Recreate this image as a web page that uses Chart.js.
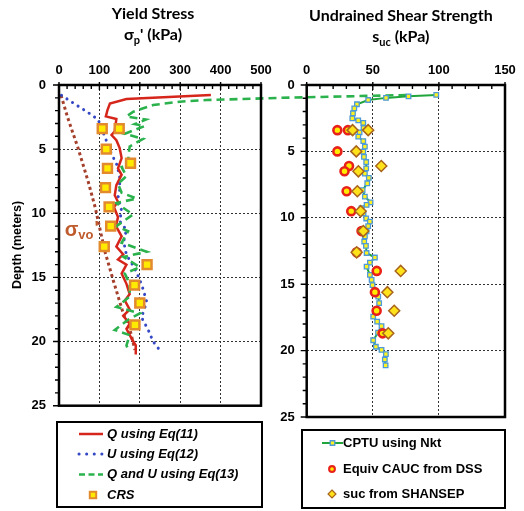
<!DOCTYPE html>
<html><head><meta charset="utf-8">
<script src="https://cdn.jsdelivr.net/npm/chart.js@4/dist/chart.umd.min.js"></script>
<style>
html,body{margin:0;padding:0;background:#fff;}
#wrap{position:relative;width:524px;height:511px;background:#fff;}
canvas{position:absolute;left:0;top:0;}
</style></head><body>
<div id="wrap"><canvas id="cl" width="524" height="511"></canvas><canvas id="cr" width="524" height="511"></canvas></div>
<script>
// ---------- tick labels ----------
const depthTicks = [0, 5, 10, 15, 20, 25];
const yieldTicks = [0, 100, 200, 300, 400, 500];
const suTicks = [0, 50, 100, 150];

// ---------- Yield stress panel (kPa vs depth m) ----------
const qDepth = [0.78, 1.1, 1.45, 1.95, 2.45, 2.65, 3.1, 3.6, 3.9, 4.3, 4.9, 5.7, 6.5, 7.0, 7.8, 8.6, 9.1, 9.5, 10.3, 11.0, 11.8, 12.6, 13.2, 13.6, 14.0, 14.7, 15.5, 16.3, 16.8, 17.5, 18.0, 18.6, 19.0, 19.9, 20.3, 21.0];
const qYield = [376, 167, 126, 120, 116, 142, 140, 138, 130, 142, 150, 155, 146, 155, 142, 138, 146, 136, 146, 141, 155, 142, 159, 146, 167, 155, 167, 175, 163, 175, 159, 175, 167, 182, 190, 190];

const uDepth = [0.8, 1.5, 2.1, 2.7, 3.6, 4.4, 5.4, 6.1, 7.1, 8.3, 8.8, 9.8, 10.6, 11.3, 12.2, 13.25, 13.9, 14.6, 15.2, 15.9, 16.9, 17.6, 18.1, 19.1, 20.0, 20.7];
const uYield = [6, 40, 70, 97, 108, 118, 130, 142, 150, 150, 146, 155, 150, 167, 160, 167, 180, 192, 200, 208, 217, 210, 204, 221, 233, 250];

const quDepth = [0.78, 1.0, 1.17, 1.3, 1.56, 2.08, 2.45, 2.7, 3.05, 3.2, 3.8, 4.2, 4.8, 5.5, 6.2, 6.4, 7.1, 7.7, 8.4, 8.85, 9.2, 10.1, 11.0, 11.4, 12.3, 13.0, 13.4, 14.2, 14.7, 15.5, 16.5, 17.3, 17.8, 18.3, 19.1, 19.5, 20.3, 20.8];
const quYield = [860, 550, 365, 299, 233, 184, 167, 215, 188, 212, 163, 208, 175, 172, 171, 155, 167, 146, 155, 192, 142, 183, 142, 171, 155, 217, 160, 200, 163, 175, 175, 142, 200, 171, 138, 175, 167, 174];

const svoDepth = [0.8, 2.6, 4.9, 7.5, 9.6, 12.9, 15.2, 17.8, 19.0, 20.65];
const svoStress = [5, 22, 47, 72, 90, 113, 134, 159, 175, 188];

const sampleDepth = [3.4, 3.4, 5.0, 6.1, 6.5, 8.0, 9.5, 11.0, 12.6, 14.0, 15.6, 17.0, 18.7];
const crsYield = [107, 149, 117, 177, 120, 115, 124, 128, 112, 218, 187, 200, 188];

// ---------- Undrained shear strength panel ----------
const cptuDepth = [0.75, 0.85, 0.97, 1.13, 1.45, 1.76, 2.13, 2.51, 2.66, 2.85, 3.24, 3.57, 3.89, 4.22, 4.64, 5.02, 5.41, 5.8, 6.28, 6.67, 7.0, 7.4, 7.92, 8.4, 8.84, 9.03, 9.27, 9.66, 10.05, 10.29, 10.63, 11.01, 11.4, 11.79, 12.12, 12.65, 12.99, 13.38, 13.68, 14.3, 14.68, 15.07, 15.55, 15.94, 16.42, 16.9, 17.44, 17.82, 18.16, 18.64, 19.22, 19.71, 19.95, 20.26, 20.67, 21.11];
const cptuSu = [98, 77, 60, 46.5, 38, 36, 35, 34.5, 39, 42.8, 43, 40, 39, 42.8, 44, 42.8, 43.3, 45, 45, 44, 47, 45.8, 42.3, 44, 48.3, 45.3, 41.5, 43, 45, 47.8, 46.5, 45.3, 44, 43.5, 44.8, 45.3, 51.6, 47.8, 45.3, 47.8, 49.1, 49.8, 52.1, 54.1, 54.8, 53, 50.3, 53.3, 56.6, 54, 50.3, 52.3, 56.6, 59.9, 59.1, 59.7];
const dssSu = [23.2, 31.2, 23.2, 32, 28.6, 30.2, 33.7, 41.5, 37.8, 53, 51.6, 52.9, 57.4];
const shansepSu = [34.7, 46.5, 37.5, 56.4, 39.1, 38.3, 40.8, 42.8, 37.8, 71.1, 61, 66.2, 61.7];

const pts = (xs, ys) => xs.map((v, i) => ({x: v, y: ys[i]}));

const FONT = "'Liberation Sans', Arial, sans-serif";
const TFONT = "Lato, 'Liberation Sans', 'DejaVu Sans', sans-serif";

function richText(ctx, parts, cx, baseY, family, color) {
  let total = 0;
  parts.forEach(p => { ctx.font = `${p.italic ? 'italic ' : ''}bold ${p.size}px ${family}`; p.w = ctx.measureText(p.t).width; total += p.w; });
  let x = cx - total / 2;
  ctx.fillStyle = color || '#000';
  ctx.textAlign = 'left';
  ctx.textBaseline = 'alphabetic';
  parts.forEach(p => { ctx.font = `${p.italic ? 'italic ' : ''}bold ${p.size}px ${family}`; ctx.fillText(p.t, x, baseY + (p.dy || 0)); x += p.w; });
}

function marker(ctx, style, r, x, y) {
  ctx.beginPath();
  if (style === 'rect') { const s = r * Math.SQRT1_2; ctx.rect(x - s, y - s, 2 * s, 2 * s); }
  else if (style === 'rectRot') { ctx.moveTo(x, y - r); ctx.lineTo(x + r, y); ctx.lineTo(x, y + r); ctx.lineTo(x - r, y); ctx.closePath(); }
  else { ctx.arc(x, y, r, 0, Math.PI * 2); }
  ctx.fill(); ctx.stroke();
}

const decor = {
  id: 'decor',
  afterDraw(chart, args, o) {
    const {ctx, chartArea: a} = chart;
    const xs = chart.scales.x, ys = chart.scales.y;
    ctx.save();
    ctx.setLineDash([]);
    ctx.strokeStyle = '#000';
    ctx.lineWidth = 1.4;
    ctx.beginPath();
    for (let v = xs.min; v <= xs.max + 1e-6; v += o.minorX) {
      const p = xs.getPixelForValue(v);
      const major = Math.abs(v / o.majorX - Math.round(v / o.majorX)) < 1e-6;
      ctx.moveTo(p, a.top - (major ? 3 : 0)); ctx.lineTo(p, a.top + (major ? 5 : 4));
    }
    for (let v = ys.min; v <= ys.max + 1e-6; v += 1) {
      const p = ys.getPixelForValue(v);
      const major = v % 5 === 0;
      ctx.moveTo(a.left - (major ? 6 : 4), p); ctx.lineTo(a.left, p);
    }
    ctx.stroke();
    ctx.lineWidth = 2.5;
    ctx.strokeRect(a.left, a.top, a.right - a.left, a.bottom - a.top);

    // titles
    o.titles.forEach(t => richText(ctx, t.parts, (a.left + a.right) / 2 + t.dx, t.y, TFONT));

    // y-axis title
    if (o.yTitle) {
      ctx.save();
      ctx.translate(o.yTitle.x, o.yTitle.y);
      ctx.rotate(-Math.PI / 2);
      ctx.font = `bold 12.5px ${FONT}`;
      ctx.fillStyle = '#000';
      ctx.textAlign = 'center'; ctx.textBaseline = 'middle';
      ctx.fillText(o.yTitle.text, 0, 0);
      ctx.restore();
    }

    // in-plot label
    if (o.label) {
      const lx = xs.getPixelForValue(o.label.x), ly = ys.getPixelForValue(o.label.y);
      let x = lx;
      ctx.fillStyle = o.label.color; ctx.textAlign = 'left'; ctx.textBaseline = 'alphabetic';
      o.label.parts.forEach(p => { ctx.font = `bold ${p.size}px ${FONT}`; ctx.fillText(p.t, x, ly + (p.dy || 0)); x += ctx.measureText(p.t).width + (p.gap || 0); });
    }

    // legend box
    const L = o.legend;
    ctx.lineWidth = 2;
    ctx.strokeStyle = '#000';
    ctx.strokeRect(L.box[0], L.box[1], L.box[2] - L.box[0], L.box[3] - L.box[1]);
    const items = chart.data.datasets.filter(d => d.legend !== false);
    items.forEach((d, i) => {
      const y = L.rows[i];
      const [x1, x2] = L.sample; const cx = (x1 + x2) / 2;
      if (d.showLine) {
        ctx.save();
        ctx.strokeStyle = d.borderColor; ctx.lineWidth = d.borderWidth;
        ctx.setLineDash(d.legendDash || d.borderDash || []); ctx.lineCap = d.borderCapStyle || 'butt';
        ctx.beginPath(); ctx.moveTo(x1, y); ctx.lineTo(x2, y); ctx.stroke();
        ctx.restore();
      }
      if (d.pointRadius > 0) {
        ctx.save();
        ctx.fillStyle = d.pointBackgroundColor; ctx.strokeStyle = d.pointBorderColor;
        ctx.lineWidth = d.showLine ? d.pointBorderWidth : d.pointBorderWidth * 0.8;
        marker(ctx, d.pointStyle, d.showLine ? d.pointRadius : d.pointRadius * 0.72, d.showLine ? cx : L.markX, y);
        ctx.restore();
      }
      ctx.fillStyle = '#000';
      ctx.font = `${L.italic ? 'italic ' : ''}bold 13px ${FONT}`;
      ctx.textAlign = 'left'; ctx.textBaseline = 'middle';
      ctx.fillText(d.label, L.text, y);
    });
    ctx.restore();
  }
};

function axes(xTicks, xmax, yW, depthLabelPad) {
  const tickFont = {family: FONT, weight: 'bold', size: 13};
  return {
    x: {
      type: 'linear', position: 'top', min: 0, max: xmax,
      afterBuildTicks: s => { s.ticks = xTicks.map(v => ({value: v})); },
      afterFit: s => { s.height = 85; },
      grid: {color: '#333', lineWidth: 1, drawTicks: false},
      border: {display: false, dash: [2, 2]},
      ticks: {padding: 7, color: '#000', font: tickFont, maxRotation: 0}
    },
    y: {
      type: 'linear', reverse: true, min: 0, max: 25,
      afterBuildTicks: s => { s.ticks = depthTicks.map(v => ({value: v})); },
      afterFit: s => { s.width = yW; },
      grid: {color: '#333', lineWidth: 1, drawTicks: false},
      border: {display: false, dash: [2, 2]},
      ticks: {padding: depthLabelPad, color: '#000', font: tickFont}
    }
  };
}

Chart.defaults.font.family = FONT;

// ---------- left chart ----------
new Chart(document.getElementById('cl'), {
  type: 'scatter',
  data: {
    datasets: [
      {label: 'Q using Eq(11)', data: pts(qYield, qDepth), showLine: true, borderColor: '#D6261C', borderWidth: 2.5, pointRadius: 0, order: 2},
      {label: 'U using Eq(12)', data: pts(uYield, uDepth), showLine: true, borderColor: '#3447C4', borderWidth: 3, borderDash: [0.1, 6.5], borderCapStyle: 'round', legendDash: [0.1, 7.5], pointRadius: 0, order: 3},
      {label: 'Q and U using Eq(13)', data: pts(quYield, quDepth), showLine: true, borderColor: '#2BB24C', borderWidth: 2.6, borderDash: [8, 5], legendDash: [6, 3.5], pointRadius: 0, clip: false, order: 1},
      {label: "σvo'", legend: false, data: pts(svoStress, svoDepth), showLine: true, borderColor: '#A5402C', borderWidth: 3, borderDash: [3, 3], pointRadius: 0, order: 4},
      {label: 'CRS', data: pts(crsYield, sampleDepth), showLine: false, pointStyle: 'rect', pointRadius: 6.3, pointBackgroundColor: '#FFEA00', pointBorderColor: '#E38A2E', pointBorderWidth: 2.5, order: 0}
    ]
  },
  options: {
    responsive: false, animation: false, events: [],
    layout: {padding: {left: 0, right: 263, top: 0, bottom: 105.3}},
    scales: axes(yieldTicks, 500, 59, 13),
    plugins: {
      legend: {display: false}, tooltip: {enabled: false},
      decor: {
        minorX: 20, majorX: 100,
        titles: [
          {dx: -7, y: 18.5, parts: [{t: 'Yield Stress', size: 16}]},
          {dx: -7, y: 39.5, parts: [{t: 'σ', size: 16}, {t: 'p', size: 11, dy: 4}, {t: "' (kPa)", size: 16}]}
        ],
        yTitle: {text: 'Depth (meters)', x: 17.5, y: 245},
        label: {x: 14, y: 11.8, color: '#BF5A2C', parts: [{t: 'σ', size: 20}, {t: 'vo', size: 13, dy: 3, gap: 1}, {t: "'", size: 18, dy: -2}]},
        legend: {box: [57, 422, 262, 507], rows: [434, 454, 474.5, 495], sample: [79, 103], markX: 93, text: 107, italic: true}
      }
    }
  },
  plugins: [decor]
});

// ---------- right chart ----------
new Chart(document.getElementById('cr'), {
  type: 'scatter',
  data: {
    datasets: [
      {label: 'CPTU using Nkt', data: pts(cptuSu, cptuDepth), showLine: true, borderColor: '#1FA53C', borderWidth: 2, pointStyle: 'rect', pointRadius: 3.2, pointBackgroundColor: '#FFF21E', pointBorderColor: '#4E9AD8', pointBorderWidth: 1.3, order: 2},
      {label: 'Equiv CAUC from DSS', data: pts(dssSu, sampleDepth), showLine: false, pointStyle: 'circle', pointRadius: 4, pointBackgroundColor: '#FFEC00', pointBorderColor: '#E8221A', pointBorderWidth: 2.6, order: 1},
      {label: 'suc from SHANSEP', data: pts(shansepSu, sampleDepth), showLine: false, pointStyle: 'rectRot', pointRadius: 5.5, pointBackgroundColor: '#FFE21A', pointBorderColor: '#A8641C', pointBorderWidth: 1.5, order: 0}
    ]
  },
  options: {
    responsive: false, animation: false, events: [],
    layout: {padding: {left: 276.7, right: 19, top: 0, bottom: 94}},
    scales: axes(suTicks, 150, 30, 12),
    plugins: {
      legend: {display: false}, tooltip: {enabled: false},
      decor: {
        minorX: 10, majorX: 50,
        titles: [
          {dx: -5, y: 20.5, parts: [{t: 'Undrained Shear Strength', size: 16}]},
          {dx: -5, y: 42, parts: [{t: 's', size: 16}, {t: 'uc', size: 11, dy: 4}, {t: ' (kPa)', size: 16}]}
        ],
        legend: {box: [302, 430, 505, 508], rows: [443, 469, 494], sample: [322, 343], markX: 332, text: 343, italic: false}
      }
    }
  },
  plugins: [decor]
});
</script>
</body></html>
